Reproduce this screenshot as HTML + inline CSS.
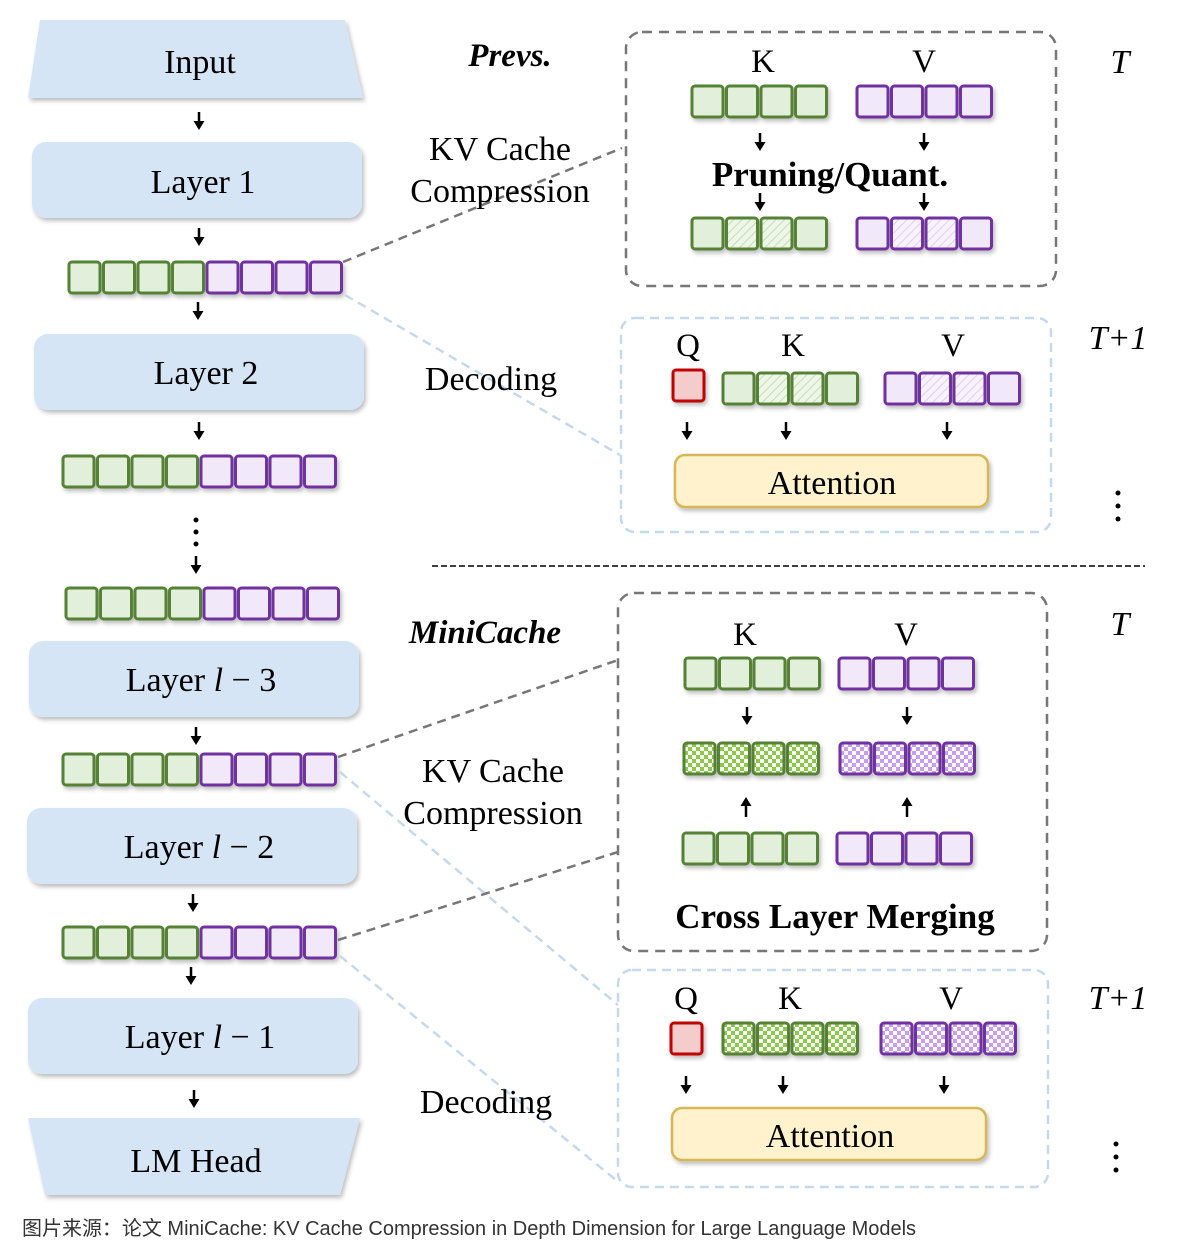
<!DOCTYPE html>
<html><head><meta charset="utf-8"><style>
html,body{margin:0;padding:0;background:#fff;}
svg{display:block;}
.s{font-family:"Liberation Serif",serif;}
</style></head><body>
<svg width="1180" height="1251" viewBox="0 0 1180 1251" xmlns="http://www.w3.org/2000/svg">
<defs>
<filter id="sh" x="-10%" y="-10%" width="130%" height="140%"><feDropShadow dx="2" dy="3" stdDeviation="2" flood-color="#000" flood-opacity="0.25"/></filter>
<pattern id="cg" width="8" height="8" patternUnits="userSpaceOnUse"><rect width="8" height="8" fill="#fff"/><rect width="4" height="4" fill="#8cc84b"/><rect x="4" y="4" width="4" height="4" fill="#8cc84b"/></pattern>
<pattern id="cp" width="8" height="8" patternUnits="userSpaceOnUse"><rect width="8" height="8" fill="#fff"/><rect width="4" height="4" fill="#c89cf0"/><rect x="4" y="4" width="4" height="4" fill="#c89cf0"/></pattern>
<pattern id="hg" width="6" height="6" patternUnits="userSpaceOnUse" patternTransform="rotate(45)"><rect width="6" height="6" fill="#eef6e8"/><line x1="0" y1="0" x2="0" y2="6" stroke="#c5dcb5" stroke-width="2"/></pattern>
<pattern id="hp" width="6" height="6" patternUnits="userSpaceOnUse" patternTransform="rotate(45)"><rect width="6" height="6" fill="#f7f2fc"/><line x1="0" y1="0" x2="0" y2="6" stroke="#ddd0ee" stroke-width="2"/></pattern>
<g id="g4" filter="url(#sh)" stroke="#548235" stroke-width="3"><rect x="0" y="0" width="31" height="31" rx="3" fill="#e2efda"/><rect x="34.5" y="0" width="31" height="31" rx="3" fill="#e2efda"/><rect x="69" y="0" width="31" height="31" rx="3" fill="#e2efda"/><rect x="103.5" y="0" width="31" height="31" rx="3" fill="#e2efda"/></g>
<g id="p4" filter="url(#sh)" stroke="#7030a0" stroke-width="3"><rect x="0" y="0" width="31" height="31" rx="3" fill="#f1e9f9"/><rect x="34.5" y="0" width="31" height="31" rx="3" fill="#f1e9f9"/><rect x="69" y="0" width="31" height="31" rx="3" fill="#f1e9f9"/><rect x="103.5" y="0" width="31" height="31" rx="3" fill="#f1e9f9"/></g>
<g id="gh" filter="url(#sh)" stroke="#548235" stroke-width="3"><rect x="0" y="0" width="31" height="31" rx="3" fill="#e2efda"/><rect x="34.5" y="0" width="31" height="31" rx="3" fill="url(#hg)"/><rect x="69" y="0" width="31" height="31" rx="3" fill="url(#hg)"/><rect x="103.5" y="0" width="31" height="31" rx="3" fill="#e2efda"/></g>
<g id="ph" filter="url(#sh)" stroke="#7030a0" stroke-width="3"><rect x="0" y="0" width="31" height="31" rx="3" fill="#f1e9f9"/><rect x="34.5" y="0" width="31" height="31" rx="3" fill="url(#hp)"/><rect x="69" y="0" width="31" height="31" rx="3" fill="url(#hp)"/><rect x="103.5" y="0" width="31" height="31" rx="3" fill="#f1e9f9"/></g>
<g id="gc" filter="url(#sh)" stroke="#548235" stroke-width="3"><rect x="0" y="0" width="31" height="31" rx="3" fill="url(#cg)"/><rect x="34.5" y="0" width="31" height="31" rx="3" fill="url(#cg)"/><rect x="69" y="0" width="31" height="31" rx="3" fill="url(#cg)"/><rect x="103.5" y="0" width="31" height="31" rx="3" fill="url(#cg)"/></g>
<g id="pc" filter="url(#sh)" stroke="#7030a0" stroke-width="3"><rect x="0" y="0" width="31" height="31" rx="3" fill="url(#cp)"/><rect x="34.5" y="0" width="31" height="31" rx="3" fill="url(#cp)"/><rect x="69" y="0" width="31" height="31" rx="3" fill="url(#cp)"/><rect x="103.5" y="0" width="31" height="31" rx="3" fill="url(#cp)"/></g>
<g id="row8"><use href="#g4"/><use href="#p4" x="138"/></g>
<g id="ad"><line x1="0" y1="0" x2="0" y2="11" stroke="#000" stroke-width="2.5"/><path d="M-5.5,9 L0,18 L5.5,9 Z" fill="#000"/></g>
<g id="au"><line x1="0" y1="8" x2="0" y2="20" stroke="#000" stroke-width="2.5"/><path d="M-5.5,9 L0,0 L5.5,9 Z" fill="#000"/></g>
</defs>

<g filter="url(#sh)" fill="#d6e5f5">
<polygon points="40,20 345,20 363,98 28,98"/>
<rect x="32" y="142" width="330" height="76" rx="14"/>
<rect x="34" y="334" width="330" height="76" rx="14"/>
<rect x="29" y="641" width="330" height="76" rx="14"/>
<rect x="27" y="808" width="330" height="76" rx="14"/>
<rect x="28" y="998" width="330" height="76" rx="14"/>
<polygon points="28,1118 360,1118 340,1195 45,1195"/>
</g>
<g class="s" font-size="34" text-anchor="middle" fill="#000">
<text x="200" y="73">Input</text>
<text x="203" y="193">Layer 1</text>
<text x="206" y="384">Layer 2</text>
<text x="201" y="691">Layer <tspan font-style="italic">l</tspan> − 3</text>
<text x="199" y="858">Layer <tspan font-style="italic">l</tspan> − 2</text>
<text x="200" y="1048">Layer <tspan font-style="italic">l</tspan> − 1</text>
<text x="196" y="1172">LM Head</text>
</g>
<use href="#row8" x="69" y="262"/>
<use href="#row8" x="63" y="456"/>
<use href="#row8" x="66" y="588"/>
<use href="#row8" x="63" y="754"/>
<use href="#row8" x="63" y="927"/>
<use href="#ad" x="199" y="112"/>
<use href="#ad" x="199" y="228"/>
<use href="#ad" x="198" y="302"/>
<use href="#ad" x="199" y="422"/>
<g fill="#000"><circle cx="196" cy="520" r="2.5"/><circle cx="196" cy="532" r="2.5"/><circle cx="196" cy="544" r="2.5"/></g>
<use href="#ad" x="196" y="556"/>
<use href="#ad" x="196" y="727"/>
<use href="#ad" x="193" y="894"/>
<use href="#ad" x="191" y="967"/>
<use href="#ad" x="194" y="1090"/>

<g fill="none" stroke-width="2.5" stroke-dasharray="9 6">
<line x1="343" y1="262" x2="622" y2="148" stroke="#777"/>
<line x1="345" y1="295" x2="620" y2="455" stroke="#c6d9ec"/>
<line x1="338" y1="757" x2="618" y2="660" stroke="#777"/>
<line x1="340" y1="772" x2="618" y2="1005" stroke="#c6d9ec"/>
<line x1="338" y1="940" x2="618" y2="852" stroke="#777"/>
<line x1="340" y1="956" x2="616" y2="1180" stroke="#c6d9ec"/>
</g>

<g class="s" font-size="34" text-anchor="middle" fill="#000">
<text x="510" y="66" font-weight="bold" font-style="italic" font-size="33">Prevs.</text>
<text x="500" y="160">KV Cache</text>
<text x="500" y="202">Compression</text>
<text x="491" y="390">Decoding</text>
<text x="485" y="643" font-weight="bold" font-style="italic" font-size="33">MiniCache</text>
<text x="493" y="782">KV Cache</text>
<text x="493" y="824">Compression</text>
<text x="486" y="1113">Decoding</text>
</g>

<rect x="626" y="32" width="430" height="254" rx="16" fill="none" stroke="#777" stroke-width="2.5" stroke-dasharray="10 7"/>
<g class="s" font-size="33" text-anchor="middle">
<text x="763" y="72">K</text><text x="924" y="72">V</text>
</g>
<use href="#g4" x="692" y="86"/>
<use href="#p4" x="857" y="86"/>
<use href="#ad" x="760" y="133"/>
<use href="#ad" x="924" y="133"/>
<text class="s" x="830" y="186" font-size="35" font-weight="bold" text-anchor="middle">Pruning/Quant.</text>
<use href="#ad" x="760" y="193"/>
<use href="#ad" x="924" y="193"/>
<use href="#gh" x="692" y="218"/>
<use href="#ph" x="857" y="218"/>

<rect x="621" y="318" width="430" height="214" rx="14" fill="none" stroke="#c6d9ec" stroke-width="2.5" stroke-dasharray="9 6"/>
<g class="s" font-size="33" text-anchor="middle">
<text x="688" y="356">Q</text><text x="793" y="356">K</text><text x="953" y="356">V</text>
</g>
<rect x="673" y="370" width="31" height="31" rx="3" fill="#f4cccc" stroke="#c00000" stroke-width="3" filter="url(#sh)"/>
<use href="#gh" x="723" y="373"/>
<use href="#ph" x="885" y="373"/>
<use href="#ad" x="687" y="422"/>
<use href="#ad" x="786" y="422"/>
<use href="#ad" x="947" y="422"/>
<rect x="675" y="455" width="313" height="52" rx="10" fill="#fff2cc" stroke="#d6b656" stroke-width="2.5" filter="url(#sh)"/>
<text class="s" x="832" y="494" font-size="34" text-anchor="middle">Attention</text>

<g class="s" font-size="34" font-style="italic" text-anchor="middle">
<text x="1120" y="73">T</text>
<text x="1118" y="349">T+1</text>
<text x="1120" y="635">T</text>
<text x="1118" y="1009">T+1</text>
</g>
<g fill="#000"><circle cx="1118" cy="493" r="2.5"/><circle cx="1118" cy="506" r="2.5"/><circle cx="1118" cy="519" r="2.5"/>
<circle cx="1116" cy="1144" r="2.5"/><circle cx="1116" cy="1157" r="2.5"/><circle cx="1116" cy="1170" r="2.5"/></g>

<line x1="432" y1="566" x2="1145" y2="566" stroke="#000" stroke-width="1.5" stroke-dasharray="6 3"/>

<rect x="618" y="593" width="429" height="358" rx="16" fill="none" stroke="#777" stroke-width="2.5" stroke-dasharray="10 7"/>
<g class="s" font-size="33" text-anchor="middle">
<text x="745" y="645">K</text><text x="906" y="645">V</text>
</g>
<use href="#g4" x="685" y="658"/>
<use href="#p4" x="839" y="658"/>
<use href="#ad" x="747" y="707"/>
<use href="#ad" x="907" y="707"/>
<use href="#gc" x="684" y="743"/>
<use href="#pc" x="840" y="743"/>
<use href="#au" x="746" y="797"/>
<use href="#au" x="907" y="797"/>
<use href="#g4" x="683" y="833"/>
<use href="#p4" x="837" y="833"/>
<text class="s" x="835" y="928" font-size="35" font-weight="bold" text-anchor="middle">Cross Layer Merging</text>

<rect x="618" y="970" width="430" height="217" rx="14" fill="none" stroke="#c6d9ec" stroke-width="2.5" stroke-dasharray="9 6"/>
<g class="s" font-size="33" text-anchor="middle">
<text x="686" y="1009">Q</text><text x="790" y="1009">K</text><text x="951" y="1009">V</text>
</g>
<rect x="671" y="1023" width="31" height="31" rx="3" fill="#f4cccc" stroke="#c00000" stroke-width="3" filter="url(#sh)"/>
<use href="#gc" x="723" y="1023"/>
<use href="#pc" x="881" y="1023"/>
<use href="#ad" x="686" y="1076"/>
<use href="#ad" x="783" y="1076"/>
<use href="#ad" x="944" y="1076"/>
<rect x="672" y="1108" width="314" height="52" rx="10" fill="#fff2cc" stroke="#d6b656" stroke-width="2.5" filter="url(#sh)"/>
<text class="s" x="830" y="1147" font-size="34" text-anchor="middle">Attention</text>

<text x="22" y="1235" font-family="'Liberation Sans','Noto Sans CJK SC',sans-serif" font-size="20" fill="#333" textLength="894" lengthAdjust="spacingAndGlyphs">图片来源：论文 MiniCache: KV Cache Compression in Depth Dimension for Large Language Models</text>
</svg>
</body></html>
